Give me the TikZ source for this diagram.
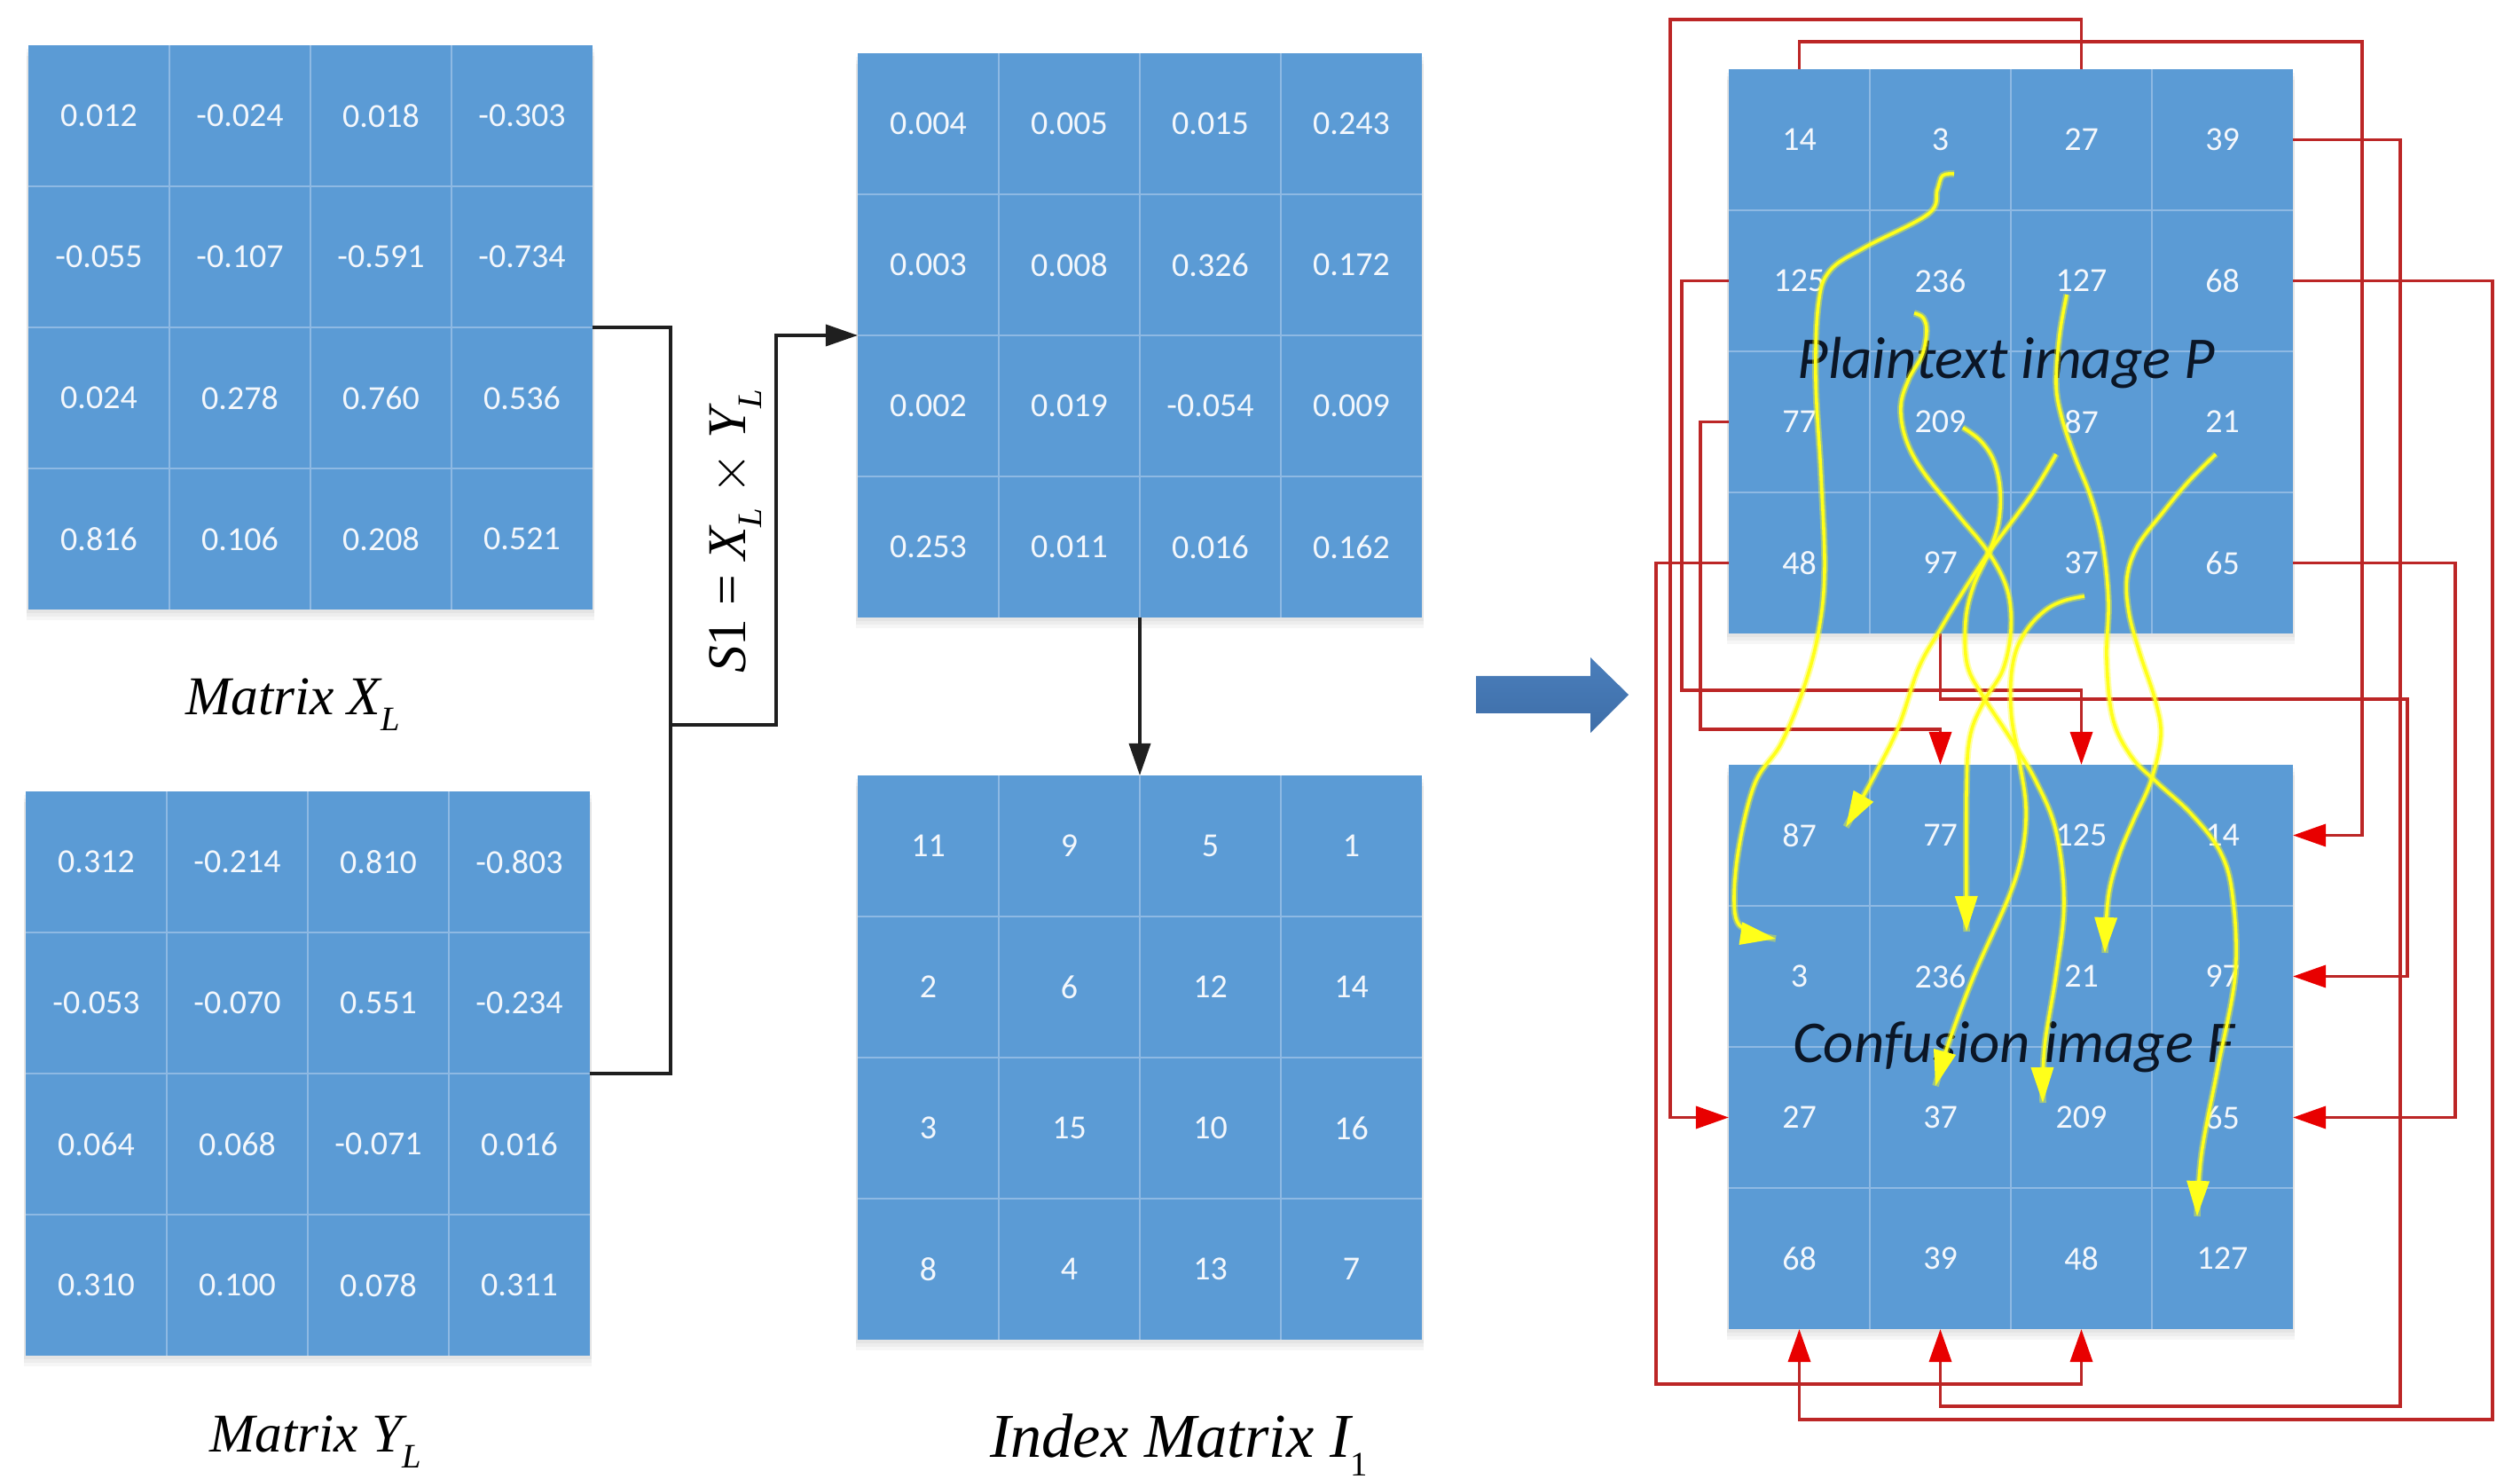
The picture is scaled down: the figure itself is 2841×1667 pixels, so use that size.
\documentclass[tikz,border=0pt]{standalone}
\usepackage{fontspec}
\setmainfont{Liberation Serif}
\newfontfamily\calibri{Carlito}
\usetikzlibrary{arrows.meta,fit}
\definecolor{cellblue}{HTML}{5B9BD5}
\definecolor{gridblue}{HTML}{8EB9E3}
\definecolor{celltext}{HTML}{F3F7FC}
\definecolor{redline}{HTML}{BC2626}
\definecolor{redhead}{HTML}{E80000}
\definecolor{bigblue}{HTML}{4A7EBB}
\definecolor{bigblue2}{HTML}{3E6EA8}
\definecolor{yel}{HTML}{FFFF1A}
\definecolor{labelink}{HTML}{0B1626}
\newcommand\cellfont{\calibri\fontsize{10.8}{12}\selectfont}
\newcommand\subtxt[1]{\raisebox{-0.3em}{\fontsize{11}{12}\selectfont #1}}
\newcommand\mkmat[4]{%
  \foreach \kk in {4,8,12} \fill[black,opacity=0.035] ({#2-2},{#3+\kk}) rectangle ({#2+638},{#3+636+\kk});
  \foreach \rowvals [count=\ri] in {#4} {
    \foreach \vv [count=\ci] in \rowvals {
      \node[cell] (#1-\ri-\ci) at ({#2+(\ci-0.5)*159},{#3+(\ri-0.5)*159}) {\vv};
    }
  }
  \foreach \kk in {1,2,3} {
    \draw[gridline] ({#2+\kk*159},#3) -- ++(0,636);
    \draw[gridline] (#2,{#3+\kk*159}) -- ++(636,0);
  }
  \node[fit=(#1-1-1)(#1-4-4), inner sep=0pt, outer sep=0pt] (#1) {};
}
\newcommand\ycurve[1]{%
  \draw[yhalo] plot[smooth,tension=0.6] coordinates {#1};
  \draw[ycore] plot[smooth,tension=0.6] coordinates {#1};}
\begin{document}
\begin{tikzpicture}[x=0.01cm,y=-0.01cm,
  cell/.style={minimum width=1.59cm, minimum height=1.59cm, inner sep=0pt, outer sep=0pt,
    fill=cellblue, text=celltext, font=\cellfont},
  gridline/.style={draw=gridblue, line width=0.015cm},
  blk/.style={draw=black!88, line width=0.036cm},
  blkarrow/.style={blk, -{Triangle[length=0.36cm,width=0.24cm]}},
  rl/.style={draw=redline, line width=0.036cm, -{Triangle[length=0.37cm,width=0.25cm,color=redhead]}},
  yhalo/.style={draw=yel, line width=0.075cm, opacity=0.4},
  ycore/.style={draw=yel, line width=0.036cm, -{Triangle[length=0.40cm,width=0.25cm]}},
  serlabel/.style={anchor=base, font=\fontsize{17.5}{20}\selectfont\itshape},
  imglabel/.style={anchor=base, text=labelink, font=\calibri\itshape\fontsize{19}{22}\selectfont}
]
\fill[white] (0,0) rectangle (2841,1667);
\useasboundingbox (0,0) rectangle (2841,1667);

% ---- matrices ----
\mkmat{XL}{32}{51}{{0.012,-0.024,0.018,-0.303},{-0.055,-0.107,-0.591,-0.734},{0.024,0.278,0.760,0.536},{0.816,0.106,0.208,0.521}}
\mkmat{YL}{29}{892}{{0.312,-0.214,0.810,-0.803},{-0.053,-0.070,0.551,-0.234},{0.064,0.068,-0.071,0.016},{0.310,0.100,0.078,0.311}}
\mkmat{S1}{967}{60}{{0.004,0.005,0.015,0.243},{0.003,0.008,0.326,0.172},{0.002,0.019,-0.054,0.009},{0.253,0.011,0.016,0.162}}
\mkmat{IM}{967}{874}{{11,9,5,1},{2,6,12,14},{3,15,10,16},{8,4,13,7}}
\mkmat{P}{1949}{78}{{14,3,27,39},{125,236,127,68},{77,209,87,21},{48,97,37,65}}
\mkmat{F}{1949}{862}{{87,77,125,14},{3,236,21,97},{27,37,209,65},{68,39,48,127}}

% ---- labels ----
\node[serlabel] (lblX) at (330,805) {Matrix X\subtxt{L}};
\node[serlabel] (lblY) at (356,1636) {Matrix Y\subtxt{L}};
\node[serlabel, font=\fontsize{20}{22}\selectfont\itshape] (lblI) at (1329,1642) {Index Matrix I\subtxt{\upshape 1}};
\node[rotate=90, font=\fontsize{17.5}{20}\selectfont] (lblS) at (829,599)
  {{\itshape S}1 = {\itshape X\subtxt{L}} $\times$ {\itshape Y\subtxt{L}}};
\node[imglabel] (lblP) at (2262,427) {Plaintext image P};
\node[imglabel] (lblF) at (2270,1197) {Confusion image F};

% ---- black connectors ----
\coordinate (jn) at (756,817);
\coordinate (jn2) at (875,817);
\draw[blk] (XL.east) -| (jn) |- (YL.east);
\draw[blkarrow] (jn) -- (jn2) |- (S1.west);
\draw[blkarrow] (S1.south) -- (IM.north);

% ---- big arrow ----
\shade[top color=bigblue, bottom color=bigblue2] (1664,762) -- (1793,762) -- (1793,741) -- (1836,783) -- (1793,826) -- (1793,804) -- (1664,804) -- cycle;

% ---- red connectors ----
\draw[rl] (P-1-1.north) |- (2663,47) |- (F-1-4.east);
\draw[rl] (P-1-3.north) |- (1883,22) |- (F-3-1.west);
\draw[rl] (P-1-4.east) -| (2706,1585) -| (F-4-2.south);
\draw[rl] (P-2-1.west) -| (1896,778) -| (F-1-3.north);
\draw[rl] (P-2-4.east) -| (2810,1600) -| (F-4-1.south);
\draw[rl] (P-3-1.west) -| (1917,822) -| (F-1-2.north);
\draw[rl] (P-4-1.west) -| (1867,1560) -| (F-4-3.south);
\draw[rl] (P-4-2.south) |- (2714,788) |- (F-2-4.east);
\draw[rl] (P-4-4.east) -| (2768,1259.5) -- (F-3-4.east);

% ---- yellow curves ----
\ycurve{(2203,196) (2190,198) (2184,214) (2174,241) (2102,279) (2063,305) (2050,343) (2047,428) (2053,536) (2057,643) (2050,713) (2033,777) (2008,838) (1978,884) (1959,964) (1956,1030) (1972,1050) (2002,1058)}
\ycurve{(2158,353) (2168,358) (2172,373) (2167,400) (2152,427) (2143,457) (2148,493) (2167,530) (2207,580) (2242,623) (2263,665) (2267,710) (2258,755) (2237,790) (2221,830) (2217,893) (2217,1050)}
\ycurve{(2213,482) (2233,497) (2248,520) (2255,553) (2253,590) (2242,623) (2225,660) (2216,700) (2218,750) (2237,787) (2265,830) (2295,880) (2318,937) (2327,1017) (2318,1098) (2305,1180) (2303,1243)}
\ycurve{(2318,512) (2290,558) (2242,623) (2213,667) (2187,710) (2163,753) (2140,820) (2110,880) (2081,932)}
\ycurve{(2330,332) (2322,377) (2318,433) (2325,473) (2340,517) (2357,560) (2370,610) (2377,677) (2375,743) (2382,810) (2403,853) (2433,883) (2470,917) (2503,960) (2517,1010) (2520,1098) (2500,1205) (2482,1300) (2477,1371)}
\ycurve{(2498,512) (2467,543) (2438,578) (2410,615) (2398,650) (2400,690) (2412,735) (2430,790) (2436,830) (2425,880) (2405,925) (2389,964) (2377,1010) (2373,1074)}
\ycurve{(2350,672) (2327,677) (2307,687) (2287,707) (2273,733) (2267,767) (2268,810) (2277,860) (2284,910) (2280,960) (2265,1010) (2226,1098) (2197,1175) (2182,1224)}
\end{tikzpicture}
\end{document}
